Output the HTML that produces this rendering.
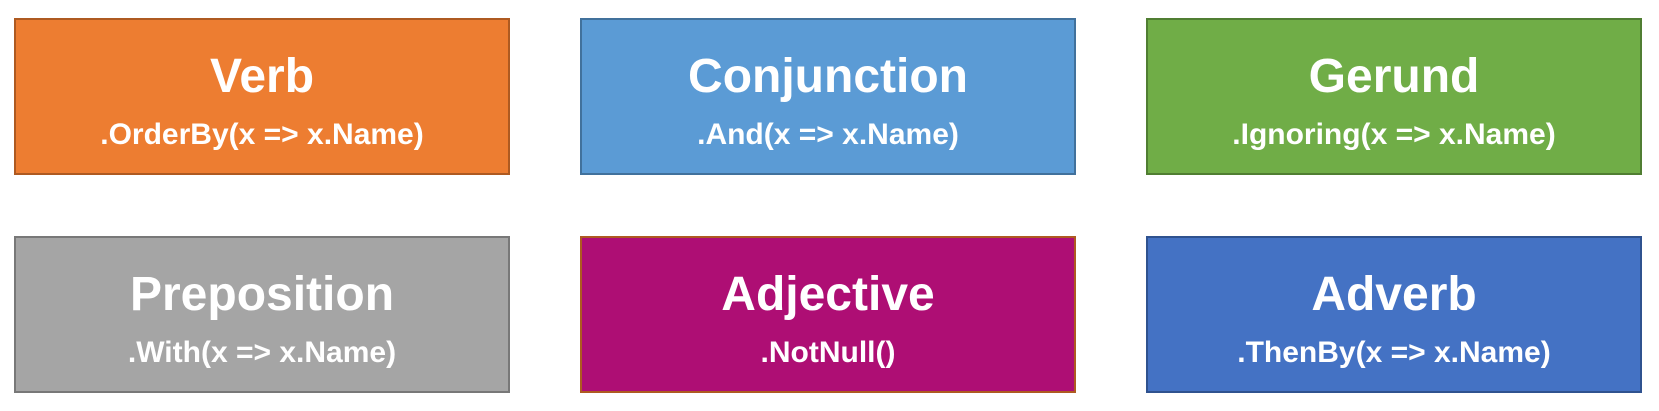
<!DOCTYPE html>
<html><head><style>
body{margin:0;width:1659px;height:411px;background:#fff;position:relative;overflow:hidden;font-family:"Liberation Sans",sans-serif;}
.b{position:absolute;width:496px;height:157px;box-sizing:border-box;border:2px solid;color:#fff;text-align:center;font-weight:bold;}
.t{position:absolute;left:0;right:0;top:28px;font-size:48px;line-height:58px;}
.s{position:absolute;left:0;right:0;top:97px;font-size:30px;line-height:36px;}
</style></head><body>
<div class="b" style="left:14px;top:18px;background:#ed7d31;border-color:#ae5a21"><div class="t">Verb</div><div class="s">.OrderBy(x =&gt; x.Name)</div></div>
<div class="b" style="left:580px;top:18px;background:#5b9bd5;border-color:#41719c"><div class="t">Conjunction</div><div class="s">.And(x =&gt; x.Name)</div></div>
<div class="b" style="left:1146px;top:18px;background:#70ad47;border-color:#507e32"><div class="t">Gerund</div><div class="s">.Ignoring(x =&gt; x.Name)</div></div>
<div class="b" style="left:14px;top:236px;background:#a5a5a5;border-color:#787878"><div class="t">Preposition</div><div class="s">.With(x =&gt; x.Name)</div></div>
<div class="b" style="left:580px;top:236px;background:#ae0e74;border-color:#ae5a21"><div class="t">Adjective</div><div class="s">.NotNull()</div></div>
<div class="b" style="left:1146px;top:236px;background:#4472c4;border-color:#2f528f"><div class="t">Adverb</div><div class="s">.ThenBy(x =&gt; x.Name)</div></div>
</body></html>
